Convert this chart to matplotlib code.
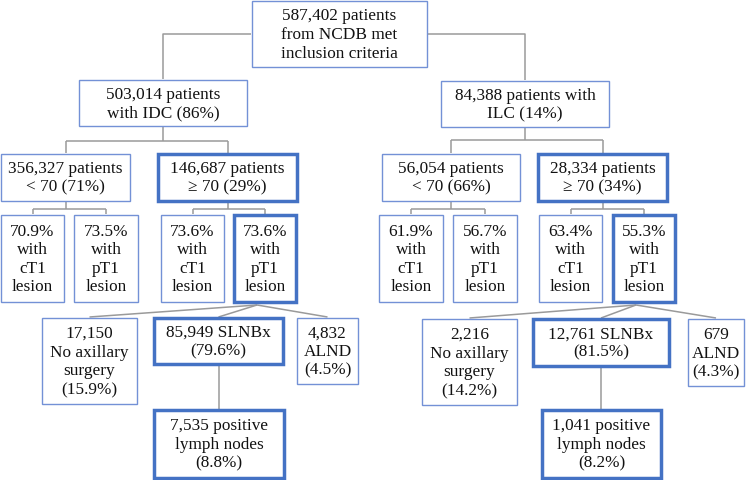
import matplotlib.pyplot as plt
from matplotlib.patches import Rectangle

# box labels (text content of the flowchart)
top_label = "587,402 patients\nfrom NCDB met\ninclusion criteria"
histology_labels = ["503,014 patients\nwith IDC (86%)", "84,388 patients with\nILC (14%)"]
age_labels = ["356,327 patients\n< 70 (71%)", "146,687 patients\n≥ 70 (29%)",
              "56,054 patients\n< 70 (66%)", "28,334 patients\n≥ 70 (34%)"]
t1_pct = ["70.9%", "73.5%", "73.6%", "73.6%", "61.9%", "56.7%", "63.4%", "55.3%"]
t1_kind = ["cT1", "pT1", "cT1", "pT1", "cT1", "pT1", "cT1", "pT1"]
surgery_labels = ["17,150\nNo axillary\nsurgery\n(15.9%)", "85,949 SLNBx\n(79.6%)", "4,832\nALND\n(4.5%)",
                  "2,216\nNo axillary\nsurgery\n(14.2%)", "12,761 SLNBx\n(81.5%)", "679\nALND\n(4.3%)"]
node_labels = ["7,535 positive\nlymph nodes\n(8.8%)", "1,041 positive\nlymph nodes\n(8.2%)"]

# layout in pixels (x0, y0, x1, y1)
top_box = (251, 0, 428, 68)
hist_boxes = [(78, 79, 248, 127), (440, 80, 610, 128)]
age_boxes = [(0, 153, 131, 202), (157, 153, 298, 202), (381, 153, 521, 202), (537, 153, 668, 202)]
t1_boxes = [(0, 214, 65, 303), (73, 214, 139, 303), (160, 214, 225, 303), (233, 214, 297, 303),
            (378, 214, 444, 303), (452, 214, 518, 303), (538, 214, 603, 303), (612, 214, 676, 303)]
surg_boxes = [(41, 317, 138, 405), (153, 317, 284, 365), (296, 317, 359, 385),
              (421, 318, 518, 406), (532, 318, 670, 367), (687, 318, 745, 387)]
node_boxes = [(153, 409, 285, 479), (541, 409, 662, 479)]

thick = {"age": [1, 3], "t1": [3, 7], "surg": [1, 4], "node": [0, 1]}

edge_col = "#4472C4"
thin_col = "#7391D6"
line_col = "#9a9a9a"

plt.rcParams['font.family'] = ['Liberation Serif', 'DejaVu Serif']

fig = plt.figure(figsize=(7.51, 4.80), dpi=100)
ax = fig.add_axes([0, 0, 1, 1])
ax.set_xlim(0, 751)
ax.set_ylim(480, 0)
ax.axis('off')


def box(b, text, bold=False):
    x0, y0, x1, y1 = b
    ax.add_patch(Rectangle((x0 + 1, y0 + 1), x1 - x0 - 2, y1 - y0 - 2, fill=False,
                           edgecolor=edge_col if bold else thin_col,
                           lw=2.5 if bold else 1.0, zorder=3))
    ax.text((x0 + x1) / 2, (y0 + y1) / 2 + 1, text, ha='center', va='center',
            fontsize=12.4, linespacing=1.22, color='#111111', zorder=4)


def line(xs, ys):
    ax.plot(xs, ys, color=line_col, lw=1.1, zorder=1, solid_capstyle='butt')


def elbow(parent, kids, mid_y, px=None):
    x0, y0, x1, y1 = parent
    cx = (x0 + x1) / 2 if px is None else px
    line([cx, cx], [y1, mid_y])
    xs = [(k[0] + k[2]) / 2 for k in kids]
    line([min(xs), max(xs)], [mid_y, mid_y])
    for k, kx in zip(kids, xs):
        line([kx, kx], [mid_y, k[1]])


# top split comes off the sides of the first box
ty = (top_box[1] + top_box[3]) / 2
hx = [(b[0] + b[2]) / 2 for b in hist_boxes]
line([top_box[0], hx[0], hx[0]], [ty, ty, hist_boxes[0][1]])
line([top_box[2], hx[1], hx[1]], [ty, ty, hist_boxes[1][1]])

elbow(hist_boxes[0], age_boxes[0:2], 141)
elbow(hist_boxes[1], age_boxes[2:4], 140)
for i in range(4):
    elbow(age_boxes[i], t1_boxes[2 * i:2 * i + 2], 209)

# fan lines from the pT1 boxes of older patients
for src, kids in [(t1_boxes[3], surg_boxes[0:3]), (t1_boxes[7], surg_boxes[3:6])]:
    sx = (src[0] + src[2]) / 2 - 8
    for k in kids:
        line([sx, (k[0] + k[2]) / 2], [src[3] + 2, k[1]])

for s, n in [(surg_boxes[1], node_boxes[0]), (surg_boxes[4], node_boxes[1])]:
    cx = (s[0] + s[2]) / 2
    line([cx, cx], [s[3], n[1]])

box(top_box, top_label)
for b, t in zip(hist_boxes, histology_labels):
    box(b, t)
for i, (b, t) in enumerate(zip(age_boxes, age_labels)):
    box(b, t, i in thick["age"])
for i, b in enumerate(t1_boxes):
    box(b, t1_pct[i] + "\nwith\n" + t1_kind[i] + "\nlesion", i in thick["t1"])
for i, (b, t) in enumerate(zip(surg_boxes, surgery_labels)):
    box(b, t, i in thick["surg"])
for i, (b, t) in enumerate(zip(node_boxes, node_labels)):
    box(b, t, i in thick["node"])

fig.savefig("out.png", dpi=100)
